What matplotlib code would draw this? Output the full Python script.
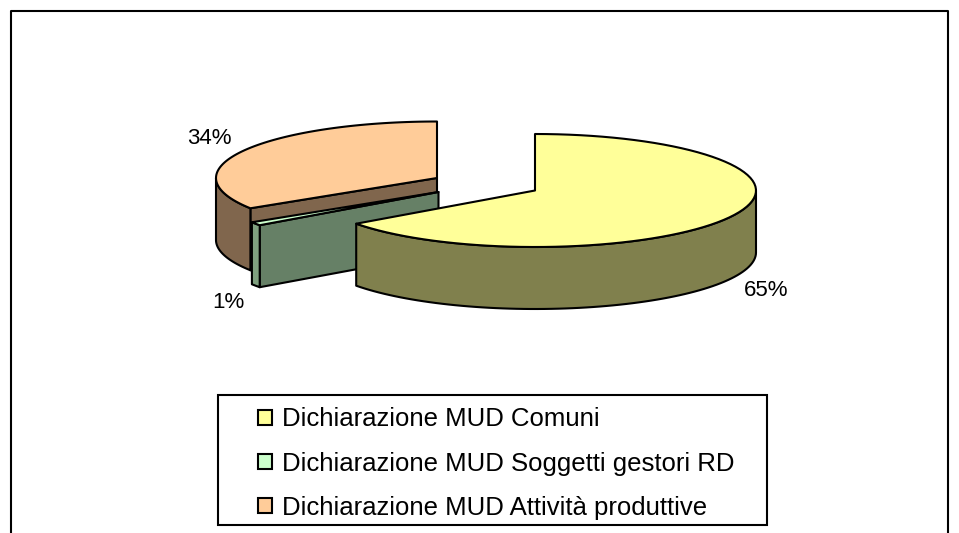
import numpy as np
import matplotlib
matplotlib.use("Agg")
import matplotlib.pyplot as plt
from matplotlib.patches import Polygon, Rectangle

plt.rcParams['font.family'] = ['Liberation Sans', 'DejaVu Sans']

# data
labels = ['Dichiarazione MUD Comuni', 'Dichiarazione MUD Soggetti gestori RD', 'Dichiarazione MUD Attività produttive']
values = [65, 1, 34]

# styles, one entry per slice
top_colors = ['#FFFF99', '#CCFFCC', '#FFCC99']
side_colors = ['#80804D', '#668066', '#80664D']
rim_colors = ['#80804D', '#7FA07F', '#80664D']
centers = [(535, 190.5), (438.5, 192), (437, 178)]
label_pos = [(766, 291), (228, 303), (209.5, 139)]

RX, RY = 221, 56.5
DEPTH = 62
LW = 1.5

fig = plt.figure(figsize=(9.59, 5.33), dpi=100)
ax = fig.add_axes([0, 0, 1, 1])
ax.set_xlim(0, 959)
ax.set_ylim(533, 0)
ax.axis('off')

# outer chart frame, bottom is cut off by the image
ax.plot([10.5, 10.5, 948, 948], [540, 11, 11, 540], color='black', lw=LW)


def rim(c, a0, a1, n=80):
    # angles in degrees, clockwise from the top
    t = np.radians(np.linspace(a0, a1, n))
    return np.column_stack([c[0] + RX * np.sin(t), c[1] - RY * np.cos(t)])


def draw_slice(i, a0, a1):
    c = centers[i]

    # radial face at the start of the slice, only seen if it faces the viewer
    if 180 < a0 < 360 and i != 0:
        p = rim(c, a0, a0, 1)[0]
        face = [c, p, (p[0], p[1] + DEPTH), (c[0], c[1] + DEPTH)]
        ax.add_patch(Polygon(face, fc=side_colors[i], ec='black', lw=LW, joinstyle='round'))

    # outer wall, front half of the ellipse only
    b0, b1 = max(a0, 90), min(a1, 270)
    if b1 > b0:
        edge = rim(c, b0, b1)
        wall = np.vstack([edge, edge[::-1] + [0, DEPTH]])
        ax.add_patch(Polygon(wall, fc=rim_colors[i], ec='black', lw=LW, joinstyle='round'))

    # top surface
    top = np.vstack([[c], rim(c, a0, a1)])
    ax.add_patch(Polygon(top, fc=top_colors[i], ec='black', lw=LW, joinstyle='round'))


ends = np.cumsum(values) / np.sum(values) * 360
starts = np.concatenate([[0], ends[:-1]])

# back to front
for i in [2, 1, 0]:
    draw_slice(i, starts[i], ends[i])

for i, v in enumerate(values):
    ax.text(label_pos[i][0], label_pos[i][1], f'{v}%', fontsize=16, ha='center', va='center', color='black')

# legend box
ax.add_patch(Rectangle((218, 394.5), 549, 130, fc='white', ec='black', lw=LW))
handles = [Rectangle((0, 0), 1, 1, fc=top_colors[i], ec='black', lw=LW) for i in range(3)]
leg = ax.legend(handles, labels, loc='upper left', bbox_to_anchor=(258, 407.5), bbox_transform=ax.transData,
                frameon=False, fontsize=18.5, borderpad=0, borderaxespad=0, handlelength=0.56,
                handleheight=0.5, handletextpad=0.36, labelspacing=0.78)

fig.savefig('out.png', dpi=100)
